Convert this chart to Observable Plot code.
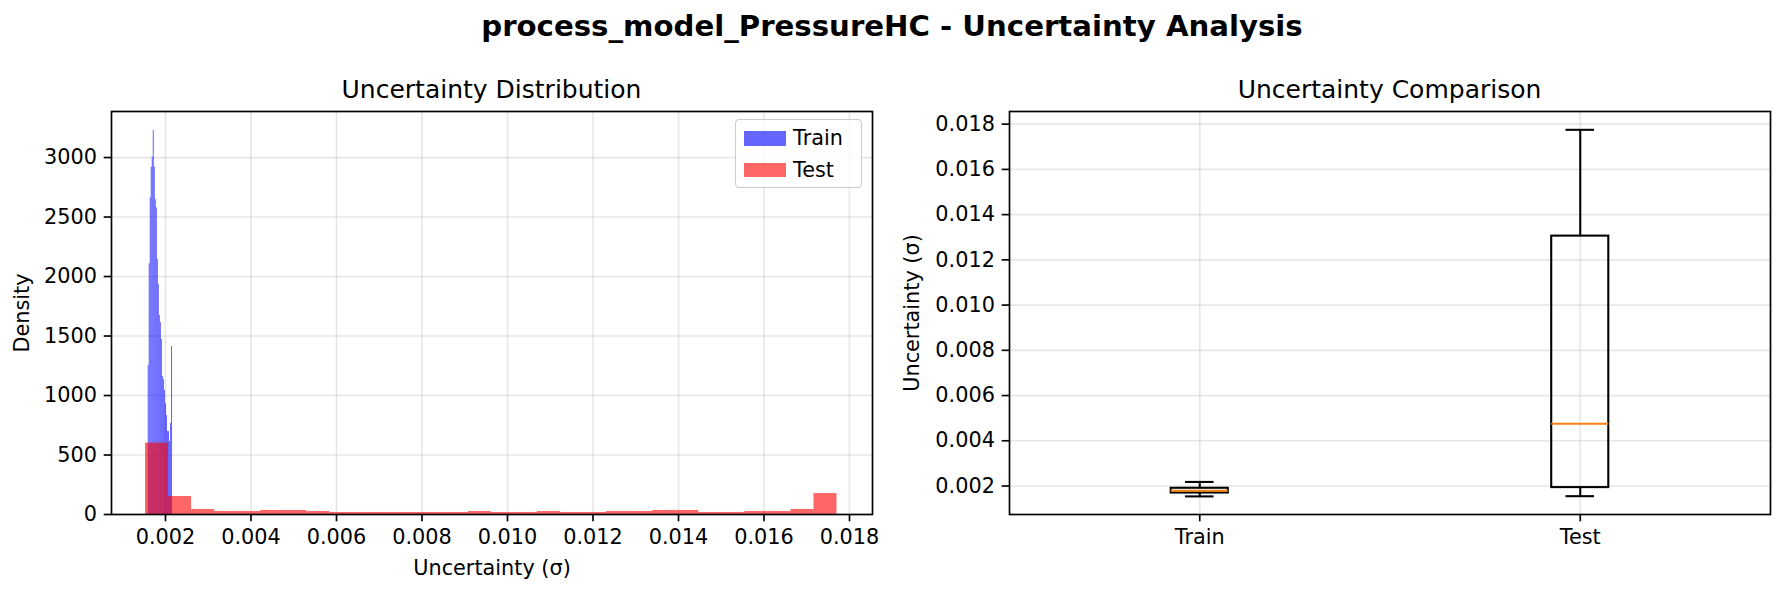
<!DOCTYPE html>
<html><head><meta charset="utf-8">
<script src="https://cdn.jsdelivr.net/npm/d3@7"></script>
<script src="https://cdn.jsdelivr.net/npm/@observablehq/plot@0.6"></script>
<style>
body{margin:0;background:#fff;}
#fig{position:relative;width:1784px;height:593px;font-family:"DejaVu Sans",sans-serif;color:#000;overflow:hidden;background:#fff;}
#fig svg{position:absolute;top:0;}
.abs{position:absolute;white-space:nowrap;line-height:1;}
</style></head><body><div id="fig"></div>
<script>
// ---------- data ----------
const suptitle = "process_model_PressureHC - Uncertainty Analysis";
const leftTitle = "Uncertainty Distribution";
const rightTitle = "Uncertainty Comparison";
const seriesNames = ["Train", "Test"];

// Train histogram (density), bin edges and heights
const trainEdges = [0.001595, 0.001619, 0.001643, 0.001666, 0.001690, 0.001714, 0.001738, 0.001761,
  0.001785, 0.001809, 0.001833, 0.001856, 0.001880, 0.001904, 0.001928, 0.001951, 0.001975,
  0.001999, 0.002023, 0.002046, 0.002070, 0.002094, 0.002118, 0.002141, 0.002165];
const trainDensity = [1252, 2107, 2661, 2919, 3003, 3227, 2920, 2645, 2577, 2143, 1933, 1672,
  1613, 1470, 1160, 1134, 1042, 930, 832, 697, 697, 613, 765, 1412];

// Test histogram (density), bin edges and heights
const testEdges = [0.001532, 0.002071, 0.002610, 0.003150, 0.003689, 0.004228, 0.004767, 0.005306,
  0.005846, 0.006385, 0.006924, 0.007463, 0.008002, 0.008542, 0.009081, 0.009620, 0.010159,
  0.010698, 0.011238, 0.011777, 0.012316, 0.012855, 0.013394, 0.013934, 0.014473, 0.015012,
  0.015551, 0.016090, 0.016630, 0.017169, 0.017708];
const testDensity = [600, 151, 42, 25, 25, 34, 34, 25, 17, 17, 17, 17, 17, 17, 25, 17, 17, 25,
  17, 17, 25, 25, 34, 34, 17, 17, 25, 25, 42, 176];

// Box plot statistics
const boxCategories = ["Train", "Test"];
const boxWhiskerLow = [0.00154, 0.00155];
const boxQ1 = [0.00169, 0.00193];
const boxMedian = [0.00179, 0.00475];
const boxQ3 = [0.00190, 0.01305];
const boxWhiskerHigh = [0.00218, 0.01775];

// ticks
const xTicksLeft = [0.002, 0.004, 0.006, 0.008, 0.010, 0.012, 0.014, 0.016, 0.018];
const yTicksLeft = [0, 500, 1000, 1500, 2000, 2500, 3000];
const yTicksRight = [0.002, 0.004, 0.006, 0.008, 0.010, 0.012, 0.014, 0.016, 0.018];

// ---------- build ----------
const fig = document.getElementById("fig");
const fmt3 = d3.format(".3f");
const FS = 20.8, LW = 1.67, BLW = 2.08;
const gridStyle = {stroke: "#b0b0b0", strokeOpacity: 0.3, strokeWidth: LW};
const svgStyle = {fontFamily: "DejaVu Sans", fontSize: FS + "px", color: "black", background: "transparent", overflow: "visible"};

const trainBins = trainDensity.map((v, i) => ({x1: trainEdges[i], x2: trainEdges[i + 1], y: v}));
const testBins = testDensity.map((v, i) => ({x1: testEdges[i], x2: testEdges[i + 1], y: v}));

const left = Plot.plot({
  width: 892, height: 593,
  marginLeft: 111, marginRight: 20, marginTop: 111, marginBottom: 79,
  style: svgStyle,
  x: {domain: [0.000737, 0.018538], label: null},
  y: {domain: [0, 3387], label: null},
  marks: [
    Plot.gridX(xTicksLeft, gridStyle),
    Plot.gridY(yTicksLeft, gridStyle),
    Plot.rect(trainBins, {x1: "x1", x2: "x2", y1: 0, y2: "y", fill: "#0000ff", fillOpacity: 0.6}),
    Plot.rect(testBins, {x1: "x1", x2: "x2", y1: 0, y2: "y", fill: "#ff0000", fillOpacity: 0.6}),
    Plot.axisX(xTicksLeft, {tickFormat: fmt3, tickSize: 7.3, tickPadding: 7.3, strokeWidth: LW,
      label: "Uncertainty (σ)", labelAnchor: "center", labelArrow: "none", labelOffset: 60}),
    Plot.axisY(yTicksLeft, {tickFormat: "d", tickSize: 7.3, tickPadding: 7.3, strokeWidth: LW,
      label: "Density", labelAnchor: "center", labelArrow: "none", labelOffset: 97}),
    Plot.frame({stroke: "black", strokeWidth: LW})
  ]
});
left.style.left = "0px";
fig.appendChild(left);

const boxData = boxCategories.map((c, i) => ({
  pos: i + 1, lo: boxWhiskerLow[i], q1: boxQ1[i], med: boxMedian[i], q3: boxQ3[i], hi: boxWhiskerHigh[i]
}));
const HB = 0.075, HC = 0.0375;
const right = Plot.plot({
  width: 892, height: 593,
  marginLeft: 117, marginRight: 14, marginTop: 111, marginBottom: 79,
  style: svgStyle,
  x: {domain: [0.5, 2.5], label: null},
  y: {domain: [0.00074, 0.01856], label: null},
  marks: [
    Plot.gridX([1, 2], gridStyle),
    Plot.gridY(yTicksRight, gridStyle),
    Plot.ruleX(boxData, {x: "pos", y1: "q3", y2: "hi", stroke: "black", strokeWidth: BLW}),
    Plot.ruleX(boxData, {x: "pos", y1: "lo", y2: "q1", stroke: "black", strokeWidth: BLW}),
    Plot.ruleY(boxData, {y: "hi", x1: d => d.pos - HC, x2: d => d.pos + HC, stroke: "black", strokeWidth: BLW}),
    Plot.ruleY(boxData, {y: "lo", x1: d => d.pos - HC, x2: d => d.pos + HC, stroke: "black", strokeWidth: BLW}),
    Plot.rect(boxData, {x1: d => d.pos - HB, x2: d => d.pos + HB, y1: "q1", y2: "q3", fill: "none", stroke: "black", strokeWidth: BLW}),
    Plot.ruleY(boxData, {y: "med", x1: d => d.pos - HB, x2: d => d.pos + HB, stroke: "#ff7f0e", strokeWidth: BLW}),
    Plot.axisX([1, 2], {tickFormat: d => boxCategories[d - 1], tickSize: 7.3, tickPadding: 7.3, strokeWidth: LW, label: null}),
    Plot.axisY(yTicksRight, {tickFormat: fmt3, tickSize: 7.3, tickPadding: 7.3, strokeWidth: LW,
      label: "Uncertainty (σ)", labelAnchor: "center", labelArrow: "none", labelOffset: 105}),
    Plot.frame({stroke: "black", strokeWidth: LW})
  ]
});
right.style.left = "892px";
fig.appendChild(right);

// ---------- titles ----------
function addText(txt, x, baseline, size, weight, anchor) {
  const d = document.createElement("div");
  d.className = "abs";
  d.textContent = txt;
  d.style.fontSize = size + "px";
  d.style.fontWeight = weight;
  d.style.left = x + "px";
  d.style.top = (baseline - 0.846 * size) + "px";
  if (anchor === "middle") d.style.transform = "translateX(-50%)";
  fig.appendChild(d);
  return d;
}
addText(suptitle, 892, 37, 29.2, "bold", "middle");
addText(leftTitle, 491.5, 98.5, 25, "normal", "middle");
addText(rightTitle, 1389.5, 98.5, 25, "normal", "middle");

// ---------- legend ----------
const leg = document.createElement("div");
leg.className = "abs";
Object.assign(leg.style, {left: "735px", top: "119px", width: "125px", height: "67px",
  border: "1.67px solid #cccccc", borderRadius: "4px", background: "rgba(255,255,255,0.8)"});
fig.appendChild(leg);
const legColors = ["rgba(0,0,255,0.6)", "rgba(255,0,0,0.6)"];
seriesNames.forEach((name, i) => {
  const top = 131 + i * 31.5;
  const sw = document.createElement("div");
  sw.className = "abs";
  Object.assign(sw.style, {left: "744px", top: top + "px", width: "41.6px", height: "14.6px", background: legColors[i]});
  fig.appendChild(sw);
  addText(name, 793, top + 7.3 + 0.36 * FS, FS, "normal", "start");
});
</script></body></html>
